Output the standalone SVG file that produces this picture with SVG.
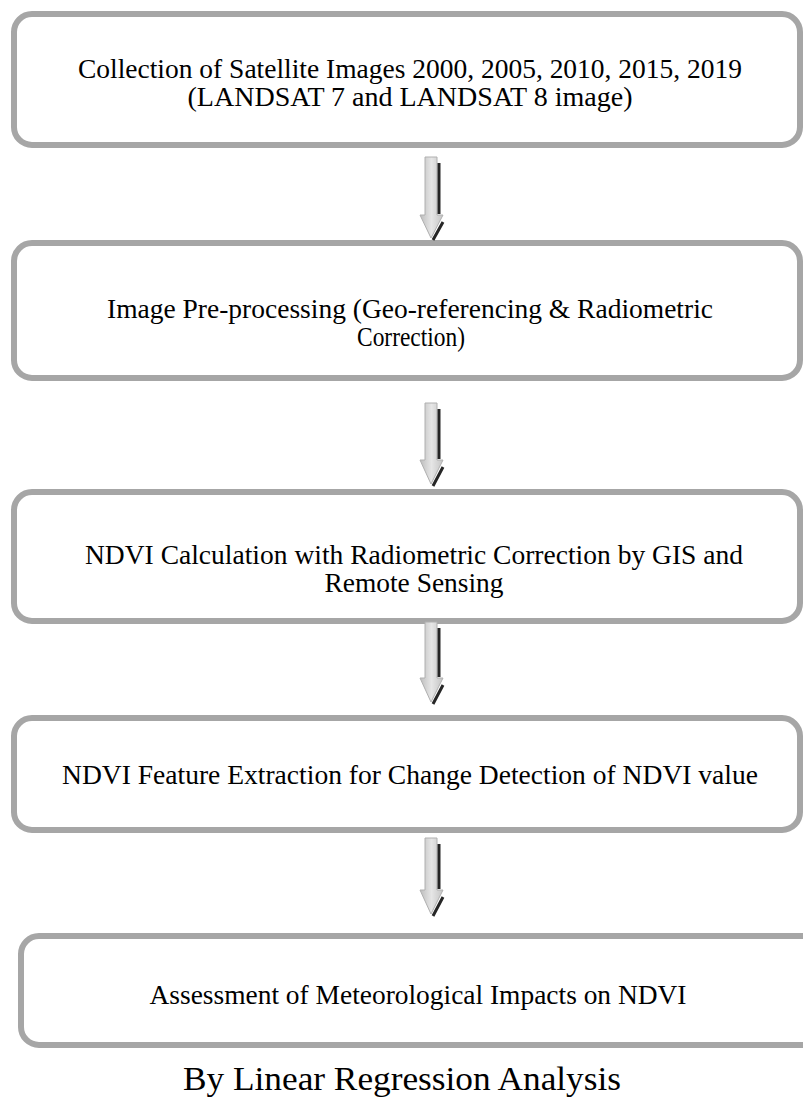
<svg xmlns="http://www.w3.org/2000/svg" width="803" height="1106" viewBox="0 0 803 1106">
<defs>
<linearGradient id="ag" x1="0" y1="0" x2="1" y2="0">
<stop offset="0" stop-color="#bdbdbd"/>
<stop offset="0.5" stop-color="#e6e6e6"/>
<stop offset="1" stop-color="#c4c4c4"/>
</linearGradient>
<style>
.box{fill:#fff;stroke:#a6a6a6;stroke-width:6}
.t{font-family:"Liberation Serif","Times New Roman",serif;font-size:28px;fill:#000;text-anchor:middle}
.big{font-size:34px}
.af{fill:url(#ag);stroke:#b0b0b0;stroke-width:1}
.sh{stroke:#262626;stroke-width:3;fill:none}
</style>
</defs>
<g id="n1">
<rect class="box" x="14" y="14" width="786" height="131" rx="18"/>
<text class="t" x="410" y="78" textLength="664" lengthAdjust="spacingAndGlyphs">Collection of Satellite Images 2000, 2005, 2010, 2015, 2019</text>
<text class="t" x="410" y="106" textLength="445" lengthAdjust="spacingAndGlyphs">(LANDSAT 7 and LANDSAT 8 image)</text>
</g>
<g id="n2">
<rect class="box" x="14" y="243" width="786" height="135" rx="18"/>
<text class="t" x="410" y="318" textLength="606" lengthAdjust="spacingAndGlyphs">Image Pre-processing (Geo-referencing &amp; Radiometric</text>
<text class="t" x="411" y="346" textLength="108" lengthAdjust="spacingAndGlyphs">Correction)</text>
</g>
<g id="n3">
<rect class="box" x="14" y="492" width="786" height="129" rx="18"/>
<text class="t" x="414" y="564" textLength="658" lengthAdjust="spacingAndGlyphs">NDVI Calculation with Radiometric Correction by GIS and</text>
<text class="t" x="414" y="592" textLength="179" lengthAdjust="spacingAndGlyphs">Remote Sensing</text>
</g>
<g id="n4">
<rect class="box" x="14" y="718" width="786" height="112" rx="18"/>
<text class="t" x="410" y="784" textLength="696" lengthAdjust="spacingAndGlyphs">NDVI Feature Extraction for Change Detection of NDVI value</text>
</g>
<g id="n5">
<rect class="box" x="21" y="936" width="800" height="109" rx="18"/>
<text class="t" x="418" y="1004" textLength="537" lengthAdjust="spacingAndGlyphs">Assessment of Meteorological Impacts on NDVI</text>
</g>
<g id="caption">
<text class="t big" x="402" y="1090" textLength="438" lengthAdjust="spacingAndGlyphs">By Linear Regression Analysis</text>
</g>
<g id="connectors">
<g>
<path class="af" d="M425,157 H437 V215 H443 L431,238 L420,215 H425 Z"/>
<path class="sh" d="M439,163 V214 M443,222 L433,240"/>
</g>
<g>
<path class="af" d="M425,403 H437 V460 H443 L431,484 L420,460 H425 Z"/>
<path class="sh" d="M439,409 V459 M443,467 L433,486"/>
</g>
<g>
<path class="af" d="M425,622 H437 V678 H443 L431,702 L420,678 H425 Z"/>
<path class="sh" d="M439,628 V677 M443,685 L433,704"/>
</g>
<g>
<path class="af" d="M425,838 H437 V890 H443 L431,914 L420,890 H425 Z"/>
<path class="sh" d="M439,844 V889 M443,897 L433,916"/>
</g>
</g>
</svg>
